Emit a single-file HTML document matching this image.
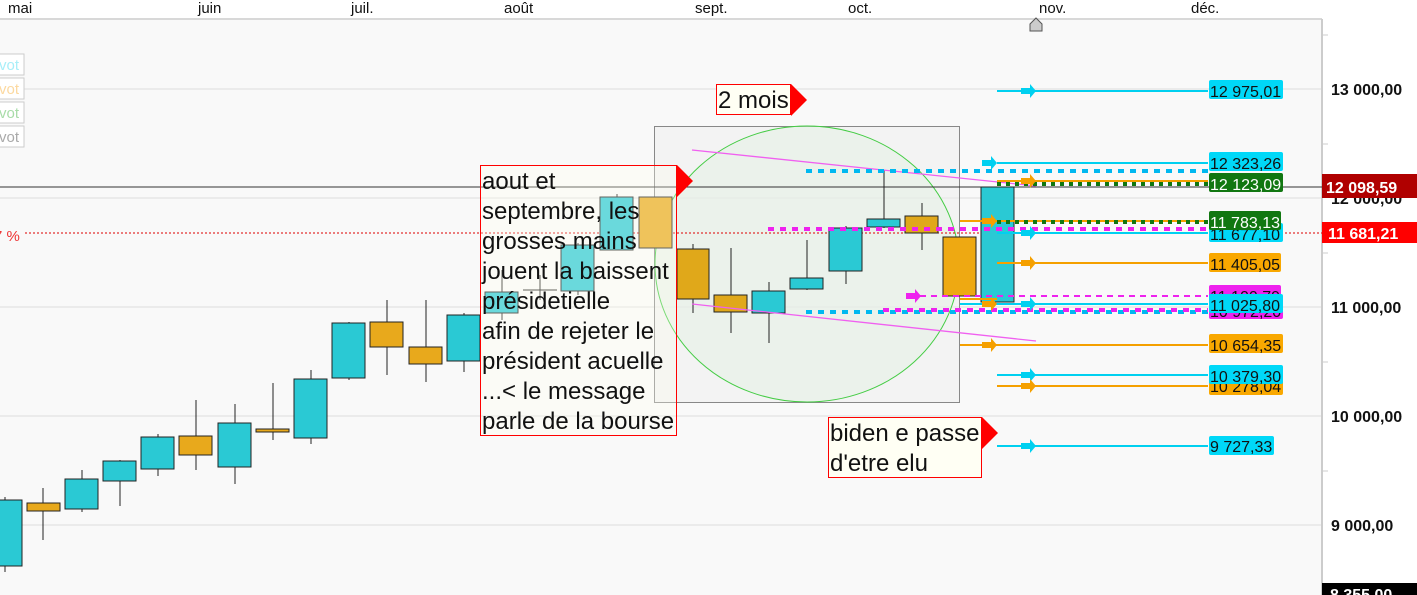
<!DOCTYPE html>
<html><head><meta charset="utf-8"><style>
html,body{margin:0;padding:0;background:#fff;width:1417px;height:595px;overflow:hidden}
svg{display:block;font-family:"Liberation Sans",sans-serif}
</style></head><body>
<svg width="1417" height="595" viewBox="0 0 1417 595" xmlns="http://www.w3.org/2000/svg">
<rect x="0" y="0" width="1417" height="595" fill="#fff"/>
<rect x="0" y="19" width="1322" height="576" fill="#f9f9f9"/>
<line x1="0" y1="19" x2="1322" y2="19" stroke="#d8d8d8" stroke-width="2"/>
<g font-size="15" fill="#111">
<text x="8" y="13">mai</text><text x="198" y="13">juin</text><text x="351" y="13">juil.</text><text x="504" y="13">août</text>
<text x="695" y="13">sept.</text><text x="848" y="13">oct.</text><text x="1039" y="13">nov.</text><text x="1191" y="13">déc.</text>
</g>
<path d="M1030 31 V24 L1036 18 L1042 24 V31 Z" fill="#ccc" stroke="#555"/>
<g stroke="#ddd" stroke-width="1">
<line x1="0" y1="89" x2="1322" y2="89"/><line x1="0" y1="198" x2="1322" y2="198"/><line x1="0" y1="307" x2="1322" y2="307"/><line x1="0" y1="416" x2="1322" y2="416"/><line x1="0" y1="525" x2="1322" y2="525"/>
</g>
<line x1="1322" y1="19" x2="1322" y2="595" stroke="#ccc" stroke-width="2"/>
<g font-size="15">
<rect x="-5" y="54" width="29" height="21" fill="#fff" stroke="#ccc"/><text x="-1" y="70" fill="#a8eef8">vot</text>
<rect x="-5" y="78" width="29" height="21" fill="#fff" stroke="#ccc"/><text x="-1" y="94" fill="#fcd9a0">vot</text>
<rect x="-5" y="102" width="29" height="21" fill="#fff" stroke="#ccc"/><text x="-1" y="118" fill="#a8dca8">vot</text>
<rect x="-5" y="126" width="29" height="21" fill="#fff" stroke="#ccc"/><text x="-1" y="142" fill="#aaa">vot</text>
<text x="-6" y="241" fill="#e33">7 %</text>
</g>
<rect x="654.5" y="126.5" width="305" height="276" fill="#eeeeee" fill-opacity="0.5" stroke="#888"/>
<ellipse cx="807" cy="264" rx="152" ry="138" fill="#e4f2e4" fill-opacity="0.5" stroke="#44cc44" stroke-width="1"/>
<line x1="0" y1="187" x2="1417" y2="187" stroke="#333" stroke-width="1"/>
<line x1="25" y1="233" x2="1322" y2="233" stroke="#d00" stroke-width="1" stroke-dasharray="2,2"/>
<g stroke="#222" stroke-width="1">
<line x1="5" y1="497" x2="5" y2="572"/><rect x="-12" y="500" width="34" height="66" fill="#2ac9d4"/>
<line x1="43" y1="488" x2="43" y2="540"/><rect x="27" y="503" width="33" height="8" fill="#e8a91c"/>
<line x1="82" y1="470" x2="82" y2="512"/><rect x="65" y="479" width="33" height="30" fill="#2ac9d4"/>
<line x1="120" y1="460" x2="120" y2="506"/><rect x="103" y="461" width="33" height="20" fill="#2ac9d4"/>
<line x1="158" y1="434" x2="158" y2="476"/><rect x="141" y="437" width="33" height="32" fill="#2ac9d4"/>
<line x1="196" y1="400" x2="196" y2="470"/><rect x="179" y="436" width="33" height="19" fill="#e8a91c"/>
<line x1="235" y1="404" x2="235" y2="484"/><rect x="218" y="423" width="33" height="44" fill="#2ac9d4"/>
<line x1="273" y1="383" x2="273" y2="440"/><rect x="256" y="429" width="33" height="3" fill="#e8a91c"/>
<line x1="311" y1="370" x2="311" y2="444"/><rect x="294" y="379" width="33" height="59" fill="#2ac9d4"/>
<line x1="349" y1="322" x2="349" y2="380"/><rect x="332" y="323" width="33" height="55" fill="#2ac9d4"/>
<line x1="387" y1="300" x2="387" y2="375"/><rect x="370" y="322" width="33" height="25" fill="#e8a91c"/>
<line x1="426" y1="300" x2="426" y2="382"/><rect x="409" y="347" width="33" height="17" fill="#e8a91c"/>
<line x1="464" y1="313" x2="464" y2="372"/><rect x="447" y="315" width="33" height="46" fill="#2ac9d4"/>
<line x1="502" y1="270" x2="502" y2="320"/><rect x="485" y="292" width="33" height="21" fill="#2ac9d4"/>
<line x1="540" y1="275" x2="540" y2="300"/><line x1="523" y1="290" x2="557" y2="290"/>
<line x1="578" y1="243" x2="578" y2="295"/><rect x="561" y="245" width="33" height="46" fill="#2ac9d4"/>
<line x1="617" y1="194" x2="617" y2="250"/><rect x="600" y="197" width="33" height="53" fill="#2ac9d4"/>
<rect x="639" y="197" width="33" height="51" fill="#e8a91c"/>
<line x1="693" y1="244" x2="693" y2="313"/><rect x="677" y="249" width="32" height="50" fill="#e0a81a"/>
<line x1="731" y1="248" x2="731" y2="333"/><rect x="714" y="295" width="33" height="17" fill="#e0a81a"/>
<line x1="769" y1="282" x2="769" y2="343"/><rect x="752" y="291" width="33" height="22" fill="#2ac9d4"/>
<line x1="807" y1="240" x2="807" y2="290"/><rect x="790" y="278" width="33" height="11" fill="#2ac9d4"/>
<line x1="846" y1="226" x2="846" y2="284"/><rect x="829" y="228" width="33" height="43" fill="#2ac9d4"/>
<line x1="884" y1="170" x2="884" y2="228"/><rect x="867" y="219" width="33" height="8" fill="#2ac9d4"/>
<line x1="922" y1="203" x2="922" y2="250"/><rect x="905" y="216" width="33" height="17" fill="#e0a81a"/>
<rect x="943" y="237" width="33" height="59" fill="#eea912"/>
<rect x="981" y="187" width="33" height="115" fill="#2ac9d4"/>
</g>
<line x1="692" y1="150" x2="1036" y2="186" stroke="#f060f0" stroke-width="1.3"/>
<line x1="692" y1="304" x2="1036" y2="341" stroke="#f060f0" stroke-width="1.3"/>
<line x1="806" y1="171" x2="1208" y2="171" stroke="#00b8f0" stroke-width="4" stroke-dasharray="6,6"/>
<line x1="768" y1="229" x2="1208" y2="229" stroke="#ee22ee" stroke-width="4" stroke-dasharray="6,6"/>
<line x1="806" y1="312" x2="1208" y2="312" stroke="#00b8f0" stroke-width="4" stroke-dasharray="6,6"/>
<line x1="883" y1="310" x2="1208" y2="310" stroke="#ee22ee" stroke-width="4" stroke-dasharray="6,6"/>
<line x1="920" y1="296" x2="1208" y2="296" stroke="#ee22ee" stroke-width="2" stroke-dasharray="6,5"/>
<g stroke-width="2">
<line x1="997" y1="91" x2="1208" y2="91" stroke="#00d0f0"/>
<line x1="997" y1="163" x2="1208" y2="163" stroke="#00d0f0"/>
<line x1="997" y1="181" x2="1208" y2="181" stroke="#f5a000"/>
<line x1="960" y1="221" x2="1208" y2="221" stroke="#f5a000"/>
<line x1="997" y1="233" x2="1208" y2="233" stroke="#00d0f0"/>
<line x1="997" y1="263" x2="1208" y2="263" stroke="#f5a000"/>
<line x1="960" y1="304" x2="1208" y2="304" stroke="#00d0f0"/>
<line x1="960" y1="345" x2="1208" y2="345" stroke="#f5a000"/>
<line x1="997" y1="375" x2="1208" y2="375" stroke="#00d0f0"/>
<line x1="997" y1="386" x2="1208" y2="386" stroke="#f5a000"/>
<line x1="997" y1="446" x2="1208" y2="446" stroke="#00d0f0"/>
<line x1="960" y1="299" x2="997" y2="299" stroke="#f5a000"/>
</g>
<line x1="997" y1="184" x2="1208" y2="184" stroke="#117711" stroke-width="4" stroke-dasharray="4,5"/>
<line x1="997" y1="222" x2="1208" y2="222" stroke="#117711" stroke-width="4" stroke-dasharray="4,5"/>
<g>
<path d="M1021 88h9v-4l6 7-6 7v-4h-9z" fill="#00d0f0"/>
<path d="M982 160h9v-4l6 7-6 7v-4h-9z" fill="#00d0f0"/>
<path d="M1021 178h9v-4l6 7-6 7v-4h-9z" fill="#f5a000"/>
<path d="M982 218h9v-4l6 7-6 7v-4h-9z" fill="#f5a000"/>
<path d="M1021 230h9v-4l6 7-6 7v-4h-9z" fill="#00d0f0"/>
<path d="M1021 260h9v-4l6 7-6 7v-4h-9z" fill="#f5a000"/>
<path d="M906 293h9v-4l6 7-6 7v-4h-9z" fill="#ee22ee"/>
<path d="M982 301h9v-4l6 7-6 7v-4h-9z" fill="#f5a000"/>
<path d="M1021 301h9v-4l6 7-6 7v-4h-9z" fill="#00d0f0"/>
<path d="M982 342h9v-4l6 7-6 7v-4h-9z" fill="#f5a000"/>
<path d="M1021 372h9v-4l6 7-6 7v-4h-9z" fill="#00d0f0"/>
<path d="M1021 383h9v-4l6 7-6 7v-4h-9z" fill="#f5a000"/>
<path d="M1021 443h9v-4l6 7-6 7v-4h-9z" fill="#00d0f0"/>
</g>
<g font-size="16">
<rect x="1209" y="80" width="74" height="19" rx="2" fill="#00d8f8"/><text x="1210" y="97" fill="#111">12 975,01</text>
<rect x="1209" y="152" width="74" height="19" rx="2" fill="#00d8f8"/><text x="1210" y="169" fill="#111">12 323,26</text>
<rect x="1209" y="173" width="74" height="19" rx="2" fill="#117711"/><text x="1210" y="190" fill="#fff">12 123,09</text>
<rect x="1209" y="223" width="74" height="19" rx="2" fill="#00d8f8"/><text x="1210" y="240" fill="#111">11 677,10</text>
<rect x="1209" y="211" width="72" height="19" rx="2" fill="#117711"/><text x="1210" y="228" fill="#fff">11 783,13</text>
<rect x="1209" y="253" width="72" height="19" rx="2" fill="#f9a800"/><text x="1210" y="270" fill="#111">11 405,05</text>
<rect x="1209" y="285" width="72" height="19" rx="2" fill="#ee22ee"/><text x="1210" y="302" fill="#111">11 100,79</text>
<rect x="1209" y="300" width="74" height="19" rx="2" fill="#ee22ee"/><text x="1210" y="317" fill="#111">10 972,20</text>
<rect x="1209" y="294" width="74" height="19" rx="2" fill="#00d8f8"/><text x="1210" y="311" fill="#111">11 025,80</text>
<rect x="1209" y="334" width="74" height="19" rx="2" fill="#f9a800"/><text x="1210" y="351" fill="#111">10 654,35</text>
<rect x="1209" y="376" width="74" height="19" rx="2" fill="#f9a800"/><text x="1210" y="392" fill="#111">10 278,04</text>
<rect x="1209" y="365" width="74" height="19" rx="2" fill="#00d8f8"/><text x="1210" y="382" fill="#111">10 379,30</text>
<rect x="1209" y="436" width="65" height="19" rx="2" fill="#00d8f8"/><text x="1210" y="452" fill="#111">9 727,33</text>
</g>
<g font-size="16" font-weight="bold" fill="#111">
<text x="1331" y="95">13 000,00</text>
<text x="1331" y="204">12 000,00</text>
<text x="1331" y="313">11 000,00</text>
<text x="1331" y="422">10 000,00</text>
<text x="1331" y="531">9 000,00</text>
</g>
<g stroke="#ccc"><line x1="1322" y1="35" x2="1328" y2="35"/><line x1="1322" y1="144" x2="1328" y2="144"/><line x1="1322" y1="253" x2="1328" y2="253"/><line x1="1322" y1="362" x2="1328" y2="362"/><line x1="1322" y1="471" x2="1328" y2="471"/></g>
<rect x="1322" y="174" width="95" height="24" fill="#b00000"/><text x="1326" y="193" font-size="16" font-weight="bold" fill="#fff">12 098,59</text>
<rect x="1322" y="222" width="95" height="21" fill="#ff0000"/><text x="1328" y="239" font-size="16" font-weight="bold" fill="#fff">11 681,21</text>
<rect x="1322" y="583" width="95" height="12" fill="#000"/><text x="1330" y="600" font-size="16" font-weight="bold" fill="#fff">8 355,00</text>
<rect x="716.5" y="84.5" width="74" height="30" fill="#fffff4" stroke="#f00"/>
<path d="M791 84 L807 100 L791 116 Z" fill="#f00"/>
<text x="718" y="108" font-size="24" fill="#111">2 mois</text>
<rect x="480.5" y="165.5" width="196" height="270" fill="#fffff0" fill-opacity="0.3" stroke="#f00"/>
<path d="M677 165 L693 181 L677 197 Z" fill="#f00"/>
<g font-size="24" fill="#111">
<text x="482" y="189">aout et</text>
<text x="482" y="219">septembre, les</text>
<text x="482" y="249">grosses mains</text>
<text x="482" y="279">jouent la baissent</text>
<text x="482" y="309">présidetielle</text>
<text x="482" y="339">afin de rejeter le</text>
<text x="482" y="369">président acuelle</text>
<text x="482" y="399">...&lt; le message</text>
<text x="482" y="429">parle de la bourse</text>
</g>
<rect x="828.5" y="417.5" width="153" height="60" fill="#fffff4" stroke="#f00"/>
<path d="M982 417 L998 433 L982 449 Z" fill="#f00"/>
<text x="830" y="441" font-size="24" fill="#111">biden e passe</text>
<text x="830" y="471" font-size="24" fill="#111">d'etre elu</text>
</svg>
</body></html>
